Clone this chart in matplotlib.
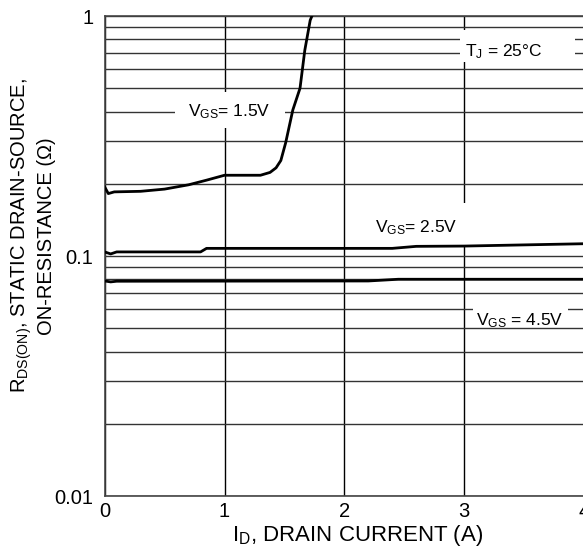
import matplotlib
matplotlib.use("Agg")
import matplotlib.pyplot as plt
from matplotlib.patches import Rectangle

plt.rcParams['font.family'] = ['Liberation Sans', 'DejaVu Sans']
plt.rcParams['mathtext.fontset'] = 'custom'
plt.rcParams['mathtext.rm'] = 'Liberation Sans'
plt.rcParams['mathtext.it'] = 'Liberation Sans:italic'

# Data
id_15 = [0, 0.03, 0.08, 0.3, 0.5, 0.7, 0.85, 1.0, 1.3, 1.38, 1.43, 1.47, 1.51, 1.57, 1.63, 1.67, 1.715, 1.74]
r_15 = [0.194, 0.182, 0.185, 0.186, 0.19, 0.198, 0.207, 0.217, 0.217, 0.223, 0.233, 0.25, 0.296, 0.406, 0.5, 0.72, 0.96, 1.03]

id_25 = [0, 0.05, 0.1, 0.8, 0.85, 2.4, 2.6, 3.0, 4.0]
r_25 = [0.104, 0.102, 0.104, 0.104, 0.1076, 0.1076, 0.1097, 0.110, 0.1125]

id_45 = [0, 0.05, 0.1, 2.2, 2.45, 4.0]
r_45 = [0.0787, 0.0780, 0.0785, 0.0787, 0.080, 0.080]

x_ticks = [0, 1, 2, 3, 4]
y_ticks = [0.01, 0.1, 1]
y_ticklabels = ['0.01', '0.1', '1']

fig = plt.figure(figsize=(5.83, 5.48), dpi=100)
ax = fig.add_axes([104.7/583, (548-496)/548, 479.3/583, 480/548])
ax.set_yscale('log')
ax.set_xlim(0, 4)
ax.set_ylim(0.01, 1)

ax.set_xticks(x_ticks)
ax.set_xticklabels([str(t) for t in x_ticks])
ax.set_yticks(y_ticks)
ax.set_yticklabels(y_ticklabels)
ax.yaxis.set_minor_formatter(matplotlib.ticker.NullFormatter())
ax.tick_params(which='both', length=0, labelsize=14.5)
ax.tick_params(axis='x', pad=4.5)
ax.tick_params(axis='y', pad=8)

ax.grid(True, which='major', axis='x', color='black', lw=1.0, zorder=1)
ax.grid(True, which='both', axis='y', color='#333333', lw=1.0, zorder=1)
ax.set_axisbelow(True)
for s in ax.spines.values():
    s.set_color('#444444')
    s.set_linewidth(1.2)

# white masks behind labels
for (x0, y0, x1, y1) in [(0.1467, 0.7667, 0.376, 0.8417),
                         (0.7413, 0.9042, 0.9811, 0.9708),
                         (0.543, 0.5229, 0.762, 0.6104),
                         (0.7684, 0.352, 0.9667, 0.4146)]:
    ax.add_patch(Rectangle((x0, y0), x1 - x0, y1 - y0, transform=ax.transAxes,
                           facecolor='white', edgecolor='none', zorder=1.5))

ax.plot(id_15, r_15, color='black', lw=2.0, zorder=3)
ax.plot(id_25, r_25, color='black', lw=2.0, zorder=3)
ax.plot(id_45, r_45, color='black', lw=2.0, zorder=3)

lab_fs = 12.5
ax.text(0.259, 0.7917, r'$\mathregular{V_{GS}}$= 1.5V', transform=ax.transAxes,
        ha='center', va='baseline', fontsize=lab_fs, zorder=4)
ax.text(0.752, 0.9167, r'$\mathregular{T_J}$ = 25°C', transform=ax.transAxes,
        ha='left', va='baseline', fontsize=lab_fs, zorder=4)
ax.text(0.650, 0.55, r'$\mathregular{V_{GS}}$= 2.5V', transform=ax.transAxes,
        ha='center', va='baseline', fontsize=lab_fs, zorder=4)
ax.text(0.865, 0.356, r'$\mathregular{V_{GS}}$ = 4.5V', transform=ax.transAxes,
        ha='center', va='baseline', fontsize=lab_fs, zorder=4)

fig.text(358/583, 7/548, r'$\mathregular{I_D}$, DRAIN CURRENT (A)', fontsize=16,
         ha='center', va='baseline')
fig.text(33/583, (548-236)/548,
         '$\\mathregular{R_{DS(ON)}}$, STATIC DRAIN-SOURCE,\nON-RESISTANCE (Ω)',
         fontsize=14.5, rotation=90, ha='center', va='center',
         multialignment='center', linespacing=1.2)

fig.savefig('out.png', dpi=100)
